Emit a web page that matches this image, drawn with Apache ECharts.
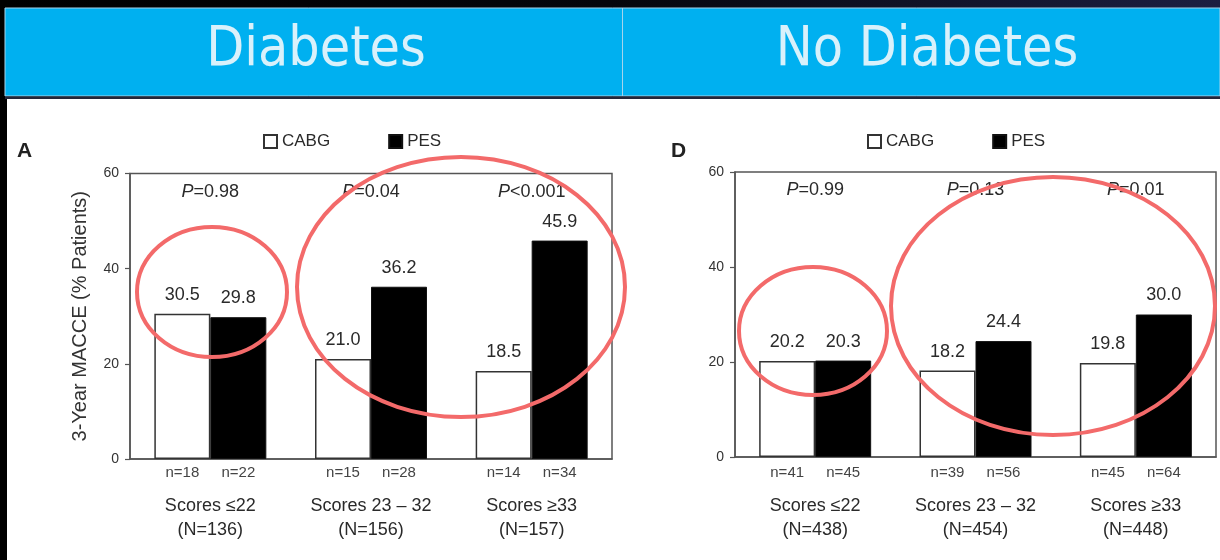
<!DOCTYPE html>
<html>
<head>
<meta charset="utf-8">
<script src="https://cdn.jsdelivr.net/npm/echarts@6/dist/echarts.min.js"></script>
<style>
  html, body { margin: 0; padding: 0; background: #fff; }
  #chart { width: 1220px; height: 560px; }
</style>
</head>
<body>
<div id="chart"></div>
<script>
// Score groups shared by both panels
const groups = ['Scores ≤22', 'Scores 23 – 32', 'Scores ≥33'];
const yMin = 0, yMax = 60, yStep = 20;

// Panel A — patients with diabetes
const diabTotals = [136, 156, 157];
const diabCabg = [30.5, 21.0, 18.5];
const diabPes = [29.8, 36.2, 45.9];
const diabCabgN = [18, 15, 14];
const diabPesN = [22, 28, 34];
const diabP = ['=0.98', '=0.04', '<0.001'];

// Panel D — patients without diabetes
const noDiabTotals = [438, 454, 448];
const noDiabCabg = [20.2, 18.2, 19.8];
const noDiabPes = [20.3, 24.4, 30.0];
const noDiabCabgN = [41, 39, 45];
const noDiabPesN = [45, 56, 64];
const noDiabP = ['=0.99', '=0.13', '=0.01'];

// Height (in % patients) at which the P values are written
const pLevel = 56.2;

const FONT = '"Liberation Sans", Arial, sans-serif';
const TXT = '#2a2a2a';
const AXIS = '#555';

function catLabels(totals, nA, nB) {
  return groups.map((g, i) =>
    '{n|n=' + nA[i] + '}{n|n=' + nB[i] + '}\n{g| }\n{c|' + g + '}\n{c|(N=' + totals[i] + ')}');
}

function xAxisFor(idx, totals, nA, nB, margin) {
  const labels = catLabels(totals, nA, nB);
  return {
    type: 'category', gridIndex: idx, data: groups,
    axisLine: { lineStyle: { color: AXIS, width: 1.5 } },
    axisTick: { show: false },
    axisLabel: {
      interval: 0, margin: margin,
      formatter: (v, i) => labels[i],
      rich: {
        n: { fontFamily: FONT, fontSize: 15, color: '#444', width: 56, align: 'center', lineHeight: 18 },
        g: { fontSize: 1, lineHeight: 12 },
        c: { fontFamily: FONT, fontSize: 18, color: TXT, lineHeight: 24, align: 'center' }
      }
    }
  };
}

function yAxisFor(idx, name) {
  return {
    type: 'value', gridIndex: idx, min: yMin, max: yMax, interval: yStep,
    name: name, nameLocation: 'middle', nameGap: 40,
    nameTextStyle: { fontFamily: FONT, fontSize: 20, color: '#333' },
    axisLine: { show: true, lineStyle: { color: AXIS, width: 1.5 } },
    axisTick: { show: true, length: 5, lineStyle: { color: AXIS, width: 1.2 } },
    axisLabel: { fontFamily: FONT, fontSize: 14, color: '#333', margin: 11 },
    splitLine: { show: false }
  };
}

const valueLabel = {
  show: true, position: 'top', distance: 10,
  fontFamily: FONT, fontSize: 18, color: TXT,
  formatter: p => p.value.toFixed(1)
};

function barSeries(idx, cabg, pes) {
  return [
    {
      name: 'CABG', type: 'bar', xAxisIndex: idx, yAxisIndex: idx,
      data: cabg, barWidth: 56, barGap: '0%',
      itemStyle: { color: '#fff', borderColor: '#333', borderWidth: 1.5 },
      label: valueLabel, silent: true
    },
    {
      name: 'PES', type: 'bar', xAxisIndex: idx, yAxisIndex: idx,
      data: pes, barWidth: 56, barGap: '0%',
      itemStyle: { color: '#000', borderColor: '#111', borderWidth: 1 },
      label: valueLabel, silent: true
    },
    {
      name: 'P', type: 'scatter', xAxisIndex: idx, yAxisIndex: idx,
      symbolSize: 0, silent: true,
      itemStyle: { opacity: 1 },
      data: (idx === 0 ? diabP : noDiabP).map((p, i) => ({ value: [i, pLevel], p: p })),
      label: {
        show: true, position: 'inside', opacity: 1, color: TXT,
        formatter: prm => '{i|P}{r|' + prm.data.p + '}',
        rich: {
          i: { fontFamily: FONT, fontSize: 18, fontStyle: 'italic', color: TXT },
          r: { fontFamily: FONT, fontSize: 18, color: TXT }
        }
      }
    }
  ];
}

function legendFor(left) {
  return {
    data: ['CABG', 'PES'], left: left, top: 128, icon: 'rect',
    itemWidth: 13, itemHeight: 13, itemGap: 58,
    selectedMode: false,
    textStyle: { fontFamily: FONT, fontSize: 17, color: TXT }
  };
}

const ring = (cx, cy, rx, ry) => ({
  type: 'ellipse', z: 100, silent: true,
  shape: { cx: cx, cy: cy, rx: rx, ry: ry },
  style: { fill: 'none', stroke: '#f36a6a', lineWidth: 4 }
});

const option = {
  backgroundColor: '#fff',
  animation: false,
  grid: [
    { left: 130, top: 173.5, width: 482, height: 285.5, show: true, borderColor: AXIS, borderWidth: 1.5 },
    { left: 735, top: 172, width: 481, height: 285, show: true, borderColor: AXIS, borderWidth: 1.5 }
  ],
  legend: [legendFor(258), legendFor(862)],
  xAxis: [
    xAxisFor(0, diabTotals, diabCabgN, diabPesN, 5),
    xAxisFor(1, noDiabTotals, noDiabCabgN, noDiabPesN, 7)
  ],
  yAxis: [yAxisFor(0, '3-Year MACCE (% Patients)'), yAxisFor(1, '')],
  series: [...barSeries(0, diabCabg, diabPes), ...barSeries(1, noDiabCabg, noDiabPes)],
  graphic: [
    // dark slide backdrop behind the header
    { type: 'rect', z: -5, silent: true, shape: { x: 0, y: 0, width: 1220, height: 99 },
      style: { fill: new echarts.graphic.LinearGradient(0, 0, 1, 0, [
        { offset: 0, color: '#000' }, { offset: 0.5, color: '#05060c' }, { offset: 1, color: '#1c1f42' }]) } },
    { type: 'rect', z: -5, silent: true, shape: { x: 0, y: 0, width: 7, height: 560 }, style: { fill: '#000' } },
    // header bar
    { type: 'rect', z: -4, silent: true, shape: { x: 5, y: 8, width: 1215, height: 88 },
      style: { fill: '#00b0f0', stroke: '#a6d4ec', lineWidth: 1 } },
    { type: 'line', z: -3, silent: true, shape: { x1: 622.5, y1: 8, x2: 622.5, y2: 96 },
      style: { stroke: '#a6d4ec', lineWidth: 1 } },
    { type: 'rect', z: -3, silent: true, shape: { x: 5, y: 96.5, width: 1215, height: 2.5 },
      style: { fill: '#23263a' } },
    { type: 'text', z: -2, silent: true, x: 316, y: 51,
      style: { text: 'Diabetes', fill: '#d9f1fb', font: '55px "DejaVu Sans Condensed", "DejaVu Sans", sans-serif',
        textAlign: 'center', textVerticalAlign: 'middle' } },
    { type: 'text', z: -2, silent: true, x: 927, y: 51,
      style: { text: 'No Diabetes', fill: '#d9f1fb', font: '55px "DejaVu Sans Condensed", "DejaVu Sans", sans-serif',
        textAlign: 'center', textVerticalAlign: 'middle' } },
    // panel letters
    { type: 'text', silent: true, x: 17, y: 141,
      style: { text: 'A', fill: '#222', font: 'bold 21px "Liberation Sans", Arial, sans-serif' } },
    { type: 'text', silent: true, x: 671, y: 141,
      style: { text: 'D', fill: '#222', font: 'bold 21px "Liberation Sans", Arial, sans-serif' } },
    // highlight rings
    ring(212, 292, 75, 65),
    ring(461, 287, 164, 130),
    ring(813, 331, 74, 64),
    ring(1053, 306, 162, 129)
  ]
};

const chart = echarts.init(document.getElementById('chart'), null, { renderer: 'canvas' });
chart.setOption(option);
</script>
</body>
</html>
